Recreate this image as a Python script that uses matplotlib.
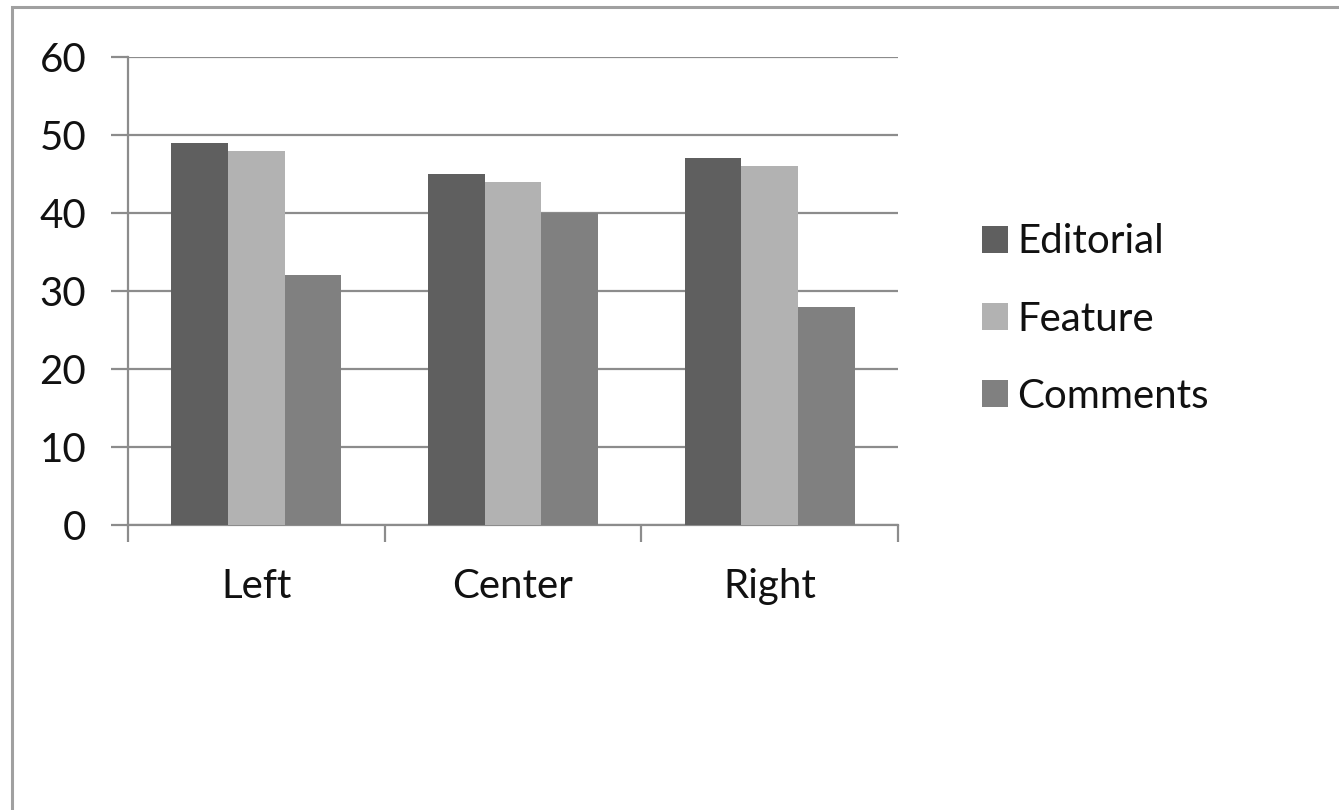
import matplotlib
matplotlib.use("Agg")
import matplotlib.pyplot as plt
import numpy as np
from matplotlib.patches import Rectangle

categories = ["Left", "Center", "Right"]
series_names = ["Editorial", "Feature", "Comments"]
editorial = [49, 45, 47]
feature = [48, 44, 46]
comments = [32, 40, 28]
colors = ["#5f5f5f", "#b2b2b2", "#808080"]
y_ticks = [0, 10, 20, 30, 40, 50, 60]

plt.rcParams['font.family'] = ['Lato', 'DejaVu Sans']

W, H = 1339, 810
fig = plt.figure(figsize=(W / 100, H / 100), dpi=100)
fig.patch.set_facecolor("white")

# figure border
fig.add_artist(Rectangle((12 / W, -0.1), 1.2, 1 - 7 / H + 0.1, transform=fig.transFigure,
                         fill=False, edgecolor="#a0a0a0", linewidth=2.2))

ax = fig.add_axes([128 / W, 1 - 525 / H, 770 / W, 468 / H])
x = np.arange(len(categories))
bw = 0.221
data = [editorial, feature, comments]
for i, (name, vals, c) in enumerate(zip(series_names, data, colors)):
    ax.bar(x + (i - 1) * bw, vals, width=bw, color=c, label=name, zorder=3,
           edgecolor="none")

ax.set_xlim(-0.5, 2.5)
ax.set_ylim(0, 60)
ax.set_yticks(y_ticks)
ax.set_yticklabels([str(v) for v in y_ticks])
ax.yaxis.grid(True, color="#8c8c8c", linewidth=1.6, zorder=0)
ax.set_axisbelow(True)

ax.set_xticks(x)
ax.set_xticklabels(categories)
ax.set_xticks([-0.5, 0.5, 1.5, 2.5], minor=True)
ax.tick_params(axis="x", which="major", length=0, pad=31, labelsize=29, labelcolor="#111111")
ax.tick_params(axis="x", which="minor", length=12, width=1.6, color="#8c8c8c", direction="out")
ax.tick_params(axis="y", length=12, width=1.6, color="#8c8c8c", pad=18, labelsize=29,
               labelcolor="#111111", direction="out")

for s in ["top", "right"]:
    ax.spines[s].set_visible(False)
for s in ["left", "bottom"]:
    ax.spines[s].set_color("#8c8c8c")
    ax.spines[s].set_linewidth(1.6)

leg = fig.legend(loc="center left", bbox_to_anchor=(966 / W, 1 - 319 / H), frameon=False,
                 fontsize=29, handlelength=0.65, handleheight=0.65, handletextpad=0.22,
                 labelspacing=1.0, borderaxespad=0)
for t in leg.get_texts():
    t.set_color("#111111")

fig.savefig("out.png", dpi=100, facecolor="white")
